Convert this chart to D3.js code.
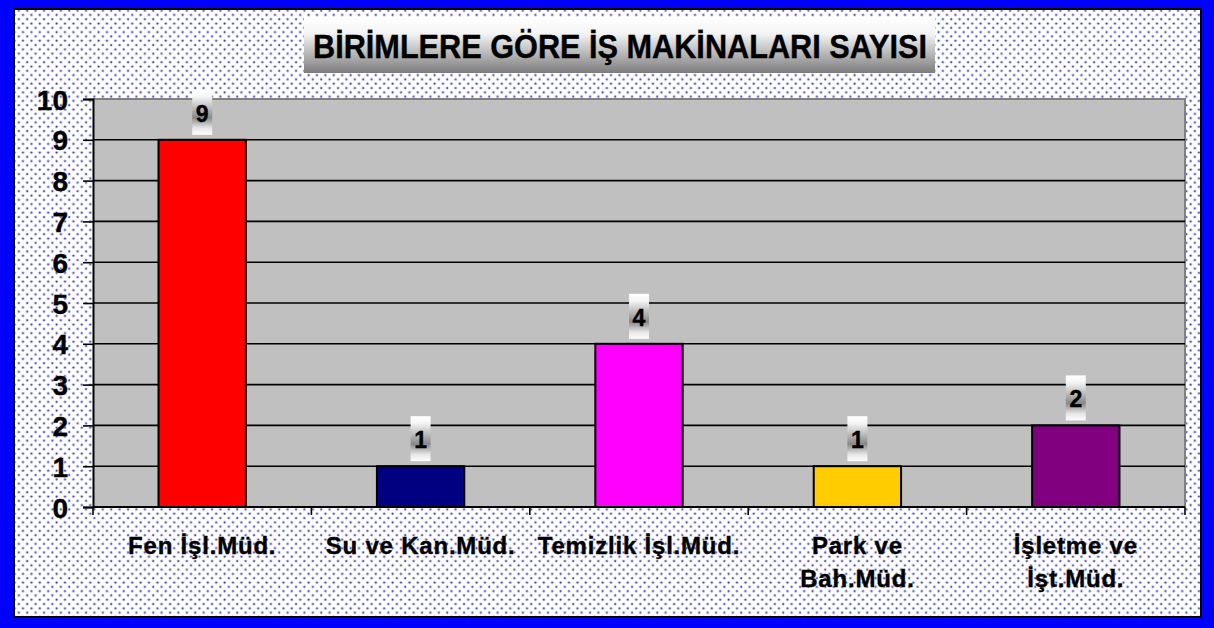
<!DOCTYPE html>
<html>
<head>
<meta charset="utf-8">
<script src="https://cdn.jsdelivr.net/npm/d3@7"></script>
<style>
  html, body { margin: 0; padding: 0; background: #0000ff; }
  svg { display: block; }
  text { font-family: "Liberation Sans", Arial, sans-serif; font-weight: bold; fill: #000; stroke: #000; stroke-width: 0.4px; }
</style>
</head>
<body>
<script>
// chart data
var title = "BİRİMLERE GÖRE İŞ MAKİNALARI SAYISI";
var categories = ["Fen İşl.Müd.", "Su ve Kan.Müd.", "Temizlik İşl.Müd.", "Park ve\nBah.Müd.", "İşletme ve\nİşt.Müd."];
var values = [9, 1, 4, 1, 2];
var barColors = ["#ff0000", "#000080", "#ff00ff", "#ffcc00", "#800080"];
var yTicks = [0, 1, 2, 3, 4, 5, 6, 7, 8, 9, 10];

var WIDTH = 1214, HEIGHT = 628;
var plot = { left: 93, right: 1185, top: 99, bottom: 507 };

var svg = d3.select("body").append("svg")
    .attr("width", WIDTH)
    .attr("height", HEIGHT);

var defs = svg.append("defs");

// dotted chart background
var pat = defs.append("pattern")
    .attr("id", "dots")
    .attr("patternUnits", "userSpaceOnUse")
    .attr("width", 8.4)
    .attr("height", 8.6);
pat.append("rect").attr("width", 8.4).attr("height", 8.6).attr("fill", "#ffffff");
[[2, 2], [6.2, 6.3]].forEach(function(p) {
  pat.append("circle").attr("cx", p[0]).attr("cy", p[1]).attr("r", 1.6).attr("fill", "#c4c4ec");
  pat.append("circle").attr("cx", p[0]).attr("cy", p[1]).attr("r", 0.9).attr("fill", "#30309c");
});

// title box gradient
var tg = defs.append("linearGradient").attr("id", "titleGrad")
    .attr("x1", 0).attr("y1", 0).attr("x2", 0).attr("y2", 1);
tg.append("stop").attr("offset", "0").attr("stop-color", "#ffffff");
tg.append("stop").attr("offset", "0.3").attr("stop-color", "#f4f4f4");
tg.append("stop").attr("offset", "1").attr("stop-color", "#7c7c7c");

// data label gradient
var lg = defs.append("linearGradient").attr("id", "labelGrad")
    .attr("x1", 0).attr("y1", 0).attr("x2", 0).attr("y2", 1);
lg.append("stop").attr("offset", "0").attr("stop-color", "#ffffff");
lg.append("stop").attr("offset", "0.15").attr("stop-color", "#f6f6f6");
lg.append("stop").attr("offset", "0.62").attr("stop-color", "#888888");
lg.append("stop").attr("offset", "0.85").attr("stop-color", "#e6e6e6");
lg.append("stop").attr("offset", "1").attr("stop-color", "#ffffff");

// chart area with black frame
svg.append("rect")
    .attr("x", 14).attr("y", 9)
    .attr("width", 1187).attr("height", 608)
    .attr("fill", "url(#dots)")
    .attr("stroke", "#000")
    .attr("stroke-width", 2);

// title
svg.append("rect")
    .attr("x", 304).attr("y", 17)
    .attr("width", 631).attr("height", 56)
    .attr("fill", "url(#titleGrad)");
svg.append("text")
    .attr("x", 620).attr("y", 58)
    .attr("text-anchor", "middle")
    .attr("font-size", 34)
    .attr("textLength", 614)
    .attr("lengthAdjust", "spacingAndGlyphs")
    .text(title);

// scales
var x = d3.scaleBand()
    .domain(categories)
    .range([plot.left, plot.right])
    .paddingInner(0.6)
    .paddingOuter(0.3);

var y = d3.scaleLinear()
    .domain([0, 10])
    .range([plot.bottom, plot.top]);

// plot area
svg.append("rect")
    .attr("x", plot.left).attr("y", plot.top)
    .attr("width", plot.right - plot.left)
    .attr("height", plot.bottom - plot.top)
    .attr("fill", "#c0c0c0");
svg.append("path")
    .attr("d", "M" + plot.left + "," + plot.top + "H" + plot.right + "V" + plot.bottom)
    .attr("fill", "none")
    .attr("stroke", "#808080")
    .attr("stroke-width", 2);

// gridlines
svg.append("g").selectAll("line")
  .data(yTicks.filter(function(d) { return d > 0 && d < 10; }))
  .join("line")
    .attr("x1", plot.left).attr("x2", plot.right)
    .attr("y1", function(d) { return y(d); })
    .attr("y2", function(d) { return y(d); })
    .attr("stroke", "#000")
    .attr("stroke-width", 1.6);

// y axis
var yAxis = svg.append("g")
    .attr("transform", "translate(" + plot.left + ",0)")
    .call(d3.axisLeft(y).tickValues(yTicks).tickSize(10).tickPadding(15).tickFormat(d3.format("d")));
yAxis.select(".domain").attr("stroke", "#000").attr("stroke-width", 2);
yAxis.selectAll(".tick line").attr("stroke", "#000").attr("stroke-width", 1.6);
yAxis.selectAll(".tick text")
    .attr("font-family", "Liberation Sans, Arial, sans-serif")
    .attr("font-weight", "bold")
    .attr("font-size", 28)
    .attr("dy", "0.36em")
    .attr("fill", "#000");

// bars
svg.append("g").selectAll("rect")
  .data(values)
  .join("rect")
    .attr("x", function(d, i) { return x(categories[i]); })
    .attr("y", function(d) { return y(d); })
    .attr("width", x.bandwidth())
    .attr("height", function(d) { return y(0) - y(d); })
    .attr("fill", function(d, i) { return barColors[i]; })
    .attr("stroke", "#000")
    .attr("stroke-width", 2);

// x axis line and boundary ticks
svg.append("line")
    .attr("x1", plot.left).attr("x2", plot.right)
    .attr("y1", plot.bottom).attr("y2", plot.bottom)
    .attr("stroke", "#000").attr("stroke-width", 2);
var step = x.step();
svg.append("g").selectAll("line")
  .data(d3.range(categories.length + 1))
  .join("line")
    .attr("x1", function(i) { return plot.left + i * step; })
    .attr("x2", function(i) { return plot.left + i * step; })
    .attr("y1", plot.bottom).attr("y2", plot.bottom + 8)
    .attr("stroke", "#000").attr("stroke-width", 1.6);

// category labels
svg.append("g").selectAll("text")
  .data(categories)
  .join("text")
    .attr("text-anchor", "middle")
    .attr("font-size", 24)
    .attr("letter-spacing", 0.8)
    .attr("transform", function(d) {
      return "translate(" + (x(d) + x.bandwidth() / 2) + ",554)";
    })
    .selectAll("tspan")
    .data(function(d) { return d.split("\n"); })
    .join("tspan")
      .attr("x", 0)
      .attr("y", function(d, i) { return i * 33; })
      .text(function(d) { return d; });

// value labels
var lab = svg.append("g").selectAll("g")
  .data(values)
  .join("g")
    .attr("transform", function(d, i) {
      return "translate(" + (x(categories[i]) + x.bandwidth() / 2) + "," + y(d) + ")";
    });
lab.append("rect")
    .attr("x", -10).attr("y", -50)
    .attr("width", 20).attr("height", 45)
    .attr("fill", "url(#labelGrad)");
lab.append("text")
    .attr("text-anchor", "middle")
    .attr("y", -18)
    .attr("font-size", 23)
    .text(function(d) { return d; });
</script>
</body>
</html>
